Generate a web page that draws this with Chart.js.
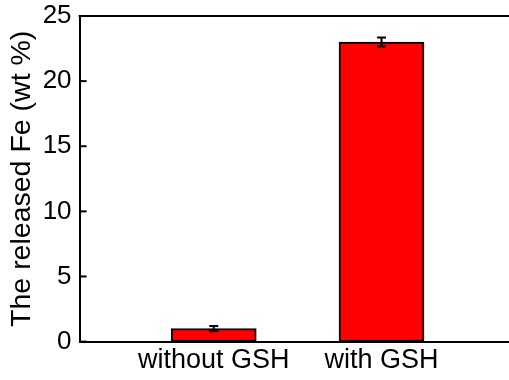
<!DOCTYPE html>
<html>
<head>
<meta charset="utf-8">
<script src="https://cdn.jsdelivr.net/npm/chart.js@4"></script>
<style>
  html, body { margin: 0; padding: 0; background: #fff; overflow: hidden; }
  #wrap { width: 509px; height: 380px; }
</style>
</head>
<body>
<div id="wrap"><canvas id="chart" width="509" height="380"></canvas></div>
<script>
// data
const categories = ['without GSH', 'with GSH'];
const positions = [1, 2];
const releasedFe = [1.0, 23.0];
const errors = [0.2, 0.35];
const yTicks = [0, 5, 10, 15, 20, 25];

const FONT = "'Liberation Sans', Arial, sans-serif";

// draws inward y ticks, top frame line and error bars
const extras = {
  id: 'extras',
  afterDatasetsDraw(chart) {
    const ctx = chart.ctx;
    const { left, right, top } = chart.chartArea;
    const x = chart.scales.x, y = chart.scales.y;
    ctx.save();
    ctx.strokeStyle = '#000';
    ctx.lineWidth = 2;
    ctx.beginPath();
    ctx.moveTo(left - 1, top);
    ctx.lineTo(right, top);
    ctx.stroke();
    yTicks.forEach(t => {
      const py = y.getPixelForValue(t);
      ctx.beginPath();
      ctx.moveTo(left, py);
      ctx.lineTo(left + 7, py);
      ctx.stroke();
    });
    ctx.lineWidth = 2;
    releasedFe.forEach((v, i) => {
      const px = x.getPixelForValue(positions[i]);
      const hi = y.getPixelForValue(v + errors[i]);
      const lo = y.getPixelForValue(v - errors[i]);
      ctx.beginPath();
      ctx.moveTo(px, hi); ctx.lineTo(px, lo);
      ctx.moveTo(px - 4.5, hi); ctx.lineTo(px + 4.5, hi);
      ctx.moveTo(px - 4.5, lo); ctx.lineTo(px + 4.5, lo);
      ctx.stroke();
    });
    ctx.restore();
  }
};

new Chart(document.getElementById('chart').getContext('2d'), {
  type: 'bar',
  data: {
    datasets: [{
      data: releasedFe.map((v, i) => ({ x: positions[i], y: v })),
      backgroundColor: '#ff0000',
      borderColor: '#000000',
      borderWidth: 2,
      borderSkipped: false,
      barThickness: 85,
    }],
  },
  options: {
    responsive: false,
    animation: false,
    layout: { padding: { top: 16, right: 0, left: 9, bottom: 0 } },
    plugins: { legend: { display: false }, tooltip: { enabled: false } },
    scales: {
      x: {
        type: 'linear',
        offset: false,
        min: 0.2,
        max: 2.76,
        grid: { display: false, drawTicks: false, offset: false },
        border: { display: true, color: '#000', width: 2 },
        afterBuildTicks: (axis) => { axis.ticks = positions.map(v => ({ value: v })); },
        afterFit: (s) => { s.paddingLeft = 0; s.paddingRight = 0; },
        ticks: {
          color: '#000',
          font: { family: FONT, size: 27 },
          padding: 3,
          maxRotation: 0,
          autoSkip: false,
          callback: (v) => categories[positions.indexOf(v)],
        },
      },
      y: {
        min: 0,
        max: 25,
        grid: { display: false, drawTicks: false },
        border: { display: true, color: '#000', width: 2 },
        afterBuildTicks: (axis) => { axis.ticks = yTicks.map(v => ({ value: v })); },
        afterFit: (s) => { s.paddingTop = 0; s.paddingBottom = 0; },
        ticks: {
          color: '#000',
          font: { family: FONT, size: 26, lineHeight: 1 },
          padding: 8,
        },
        title: {
          display: true,
          text: 'The released Fe (wt %)',
          color: '#000',
          font: { family: FONT, size: 28.5, lineHeight: 0.9 },
          padding: { top: 0, bottom: 0 },
        },
      },
    },
  },
  plugins: [extras],
});
</script>
</body>
</html>
